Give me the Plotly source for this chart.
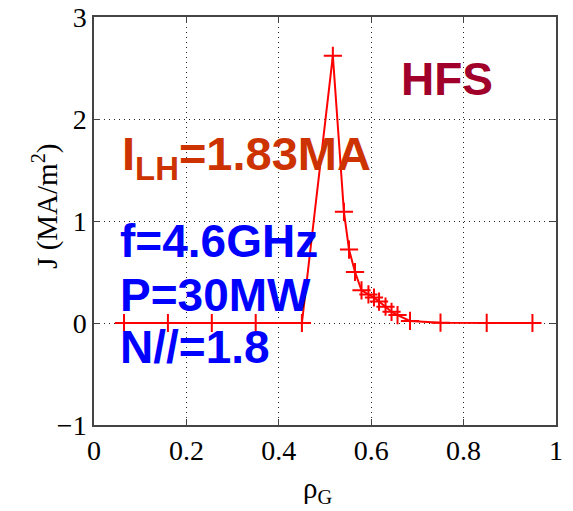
import plotly.graph_objects as go

rho = [0.065, 0.16, 0.255, 0.35, 0.45, 0.517, 0.541, 0.552, 0.565, 0.579,
       0.594, 0.606, 0.617, 0.631, 0.644, 0.657, 0.684, 0.75, 0.85, 0.949]
J = [0, 0, 0, 0, 0, 2.62, 1.09, 0.72, 0.50, 0.32,
     0.28, 0.25, 0.21, 0.16, 0.11, 0.078, 0.02, 0.003, 0.001, 0]

x_ticks = [0, 0.2, 0.4, 0.6, 0.8, 1]
x_labels = ["0", "0.2", "0.4", "0.6", "0.8", "1"]
y_ticks = [-1, 0, 1, 2, 3]
y_labels = ["\u22121", "0", "1", "2", "3"]

fig = go.Figure()
fig.add_trace(go.Scatter(
    x=rho, y=J, mode="lines+markers",
    line=dict(color="#ff0000", width=2),
    marker=dict(symbol="cross-thin", size=13, line=dict(color="#ff0000", width=2)),
    showlegend=False,
))

axis_common = dict(
    showline=True, linecolor="#444444", linewidth=1.5, mirror="ticks",
    ticks="inside", ticklen=6, tickcolor="#444444", tickwidth=1,
    showgrid=True, gridcolor="#222222", gridwidth=1, griddash="1px,4px",
    zeroline=False, automargin=False, ticklabeloverflow="allow",
    tickfont=dict(family="Liberation Serif", size=28, color="#000000"),
)

fig.update_xaxes(range=[0, 1], tickvals=x_ticks, ticktext=x_labels, **axis_common)
fig.update_yaxes(range=[-1, 3], tickvals=y_ticks, ticktext=y_labels, **axis_common)

bold = "Liberation Sans"
anns = [
    dict(x=0.663, y=2.39, text="<b>HFS</b>", color="#a0002a", size=46),
    dict(x=0.058, y=1.63, text="<b>I<sub>LH</sub>=1.83MA</b>", color="#cc3300", size=47),
    dict(x=0.054, y=0.80, text="<b>f=4.6GHz</b>", color="#0000ff", size=46),
    dict(x=0.054, y=0.27, text="<b>P=30MW</b>", color="#0000ff", size=46),
    dict(x=0.054, y=-0.24, text="<b>N//=1.8</b>", color="#0000ff", size=46),
]
for a in anns:
    fig.add_annotation(x=a["x"], y=a["y"], xref="x", yref="y", text=a["text"],
                       showarrow=False, xanchor="left", yanchor="middle",
                       borderpad=0,
                       font=dict(family=bold, size=a["size"], color=a["color"]))

fig.add_annotation(x=-0.104, y=0.537, xref="paper", yref="paper",
                   text="J (MA/m<sup>2</sup>)", textangle=-90, showarrow=False,
                   xanchor="center", yanchor="middle",
                   font=dict(family="Liberation Serif", size=29, color="#000000"))
fig.add_annotation(x=0.483, y=-0.16, xref="paper", yref="paper",
                   text="\u03c1<sub>G</sub>", showarrow=False,
                   xanchor="center", yanchor="middle",
                   font=dict(family="Liberation Serif", size=29, color="#000000"))

fig.update_layout(
    width=573, height=511,
    margin=dict(l=94, r=17, t=17, b=86, autoexpand=False),
    paper_bgcolor="white", plot_bgcolor="white",
)

# remove the default 8px page margin so the figure fills the 573x511 window
fig.write_html("out.html", config={"displayModeBar": False},
               post_script="document.body.style.margin='0px';")
